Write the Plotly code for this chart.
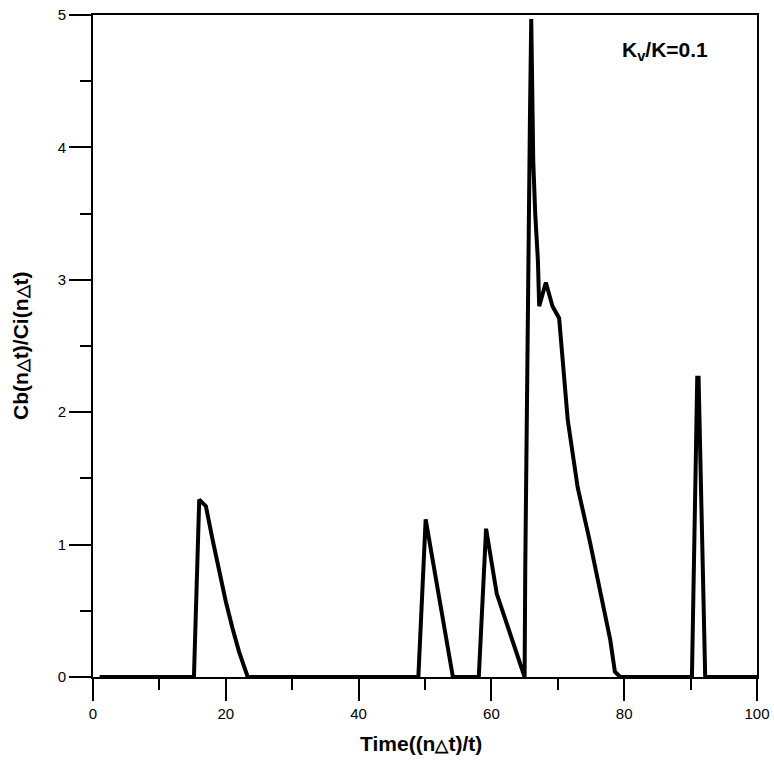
import plotly.graph_objects as go

# Time values ((n·Δt)/t) and the ratio Cb/Ci
time = [1, 15.2, 16.0, 17.0, 18.0, 19.0, 20.0, 21.0, 22.0, 23.3,
        49.0, 50.1, 54.2,
        58.1, 59.2, 60.8, 64.9,
        65.0, 65.1, 65.4, 65.6, 65.8, 66.0, 66.3, 66.6, 67.0, 67.2,
        68.2, 69.2, 70.2, 71.5, 73.0, 74.8, 77.9, 78.6, 79.4,
        90.2, 91.0, 91.2, 92.2, 100]
ratio = [0, 0, 1.34, 1.29, 1.04, 0.80, 0.57, 0.37, 0.19, 0,
         0, 1.19, 0,
         0, 1.12, 0.63, 0,
         0, 0.82, 2.5, 3.3, 4.2, 4.97, 3.9, 3.5, 3.15, 2.8,
         2.98, 2.8, 2.71, 1.94, 1.43, 1.03, 0.28, 0.04, 0,
         0, 2.26, 2.26, 0, 0]

x_ticks = [0, 20, 40, 60, 80, 100]
y_ticks = [0, 1, 2, 3, 4, 5]

FONT = "Liberation Sans, Arial, sans-serif"
TRI = "<span style='font-size:17px'>\u25b3</span>"

fig = go.Figure()
fig.add_trace(go.Scatter(x=time, y=ratio, mode="lines",
                         line=dict(color="black", width=4), showlegend=False))

axis_common = dict(showline=True, linecolor="black", linewidth=2, mirror=True,
                   ticks="outside", tickcolor="black", tickwidth=2, ticklen=22,
                   showgrid=False, zeroline=False, automargin=False,
                   tickfont=dict(family=FONT, size=15, color="black"))

fig.update_xaxes(range=[0, 100], tickvals=x_ticks, ticktext=[str(v) for v in x_ticks],
                 minor=dict(dtick=10, ticks="outside", ticklen=11, tickwidth=2,
                            tickcolor="black", showgrid=False),
                 **axis_common)
fig.update_yaxes(range=[0, 5], tickvals=y_ticks, ticktext=[str(v) for v in y_ticks],
                 minor=dict(dtick=0.5, ticks="outside", ticklen=11, tickwidth=2,
                            tickcolor="black", showgrid=False),
                 **axis_common)

fig.add_annotation(text=f"<b>Time((n{TRI}t)/t)</b>", xref="paper", yref="paper",
                   x=0.494, y=-0.1, xanchor="center", yanchor="middle", showarrow=False,
                   font=dict(family=FONT, size=21, color="black"))
fig.add_annotation(text=f"<b>Cb(n{TRI}t)/Ci(n{TRI}t)</b>", xref="paper", yref="paper",
                   x=-0.11, y=0.50, xanchor="center", yanchor="middle",
                   textangle=-90, showarrow=False,
                   font=dict(family=FONT, size=21, color="black"))
fig.add_annotation(text="<b>K<sub>v</sub>/K=0.1</b>", xref="paper", yref="paper",
                   x=0.861, y=0.945, xanchor="center", yanchor="middle", showarrow=False,
                   font=dict(family="Liberation Sans Narrow, Arial Narrow, Liberation Sans, Arial",
                             size=21, color="black"))

fig.update_layout(width=774, height=760, plot_bgcolor="white", paper_bgcolor="white",
                  margin=dict(l=93, r=17, t=15, b=83), autosize=False)

fig.write_html("out.html")
